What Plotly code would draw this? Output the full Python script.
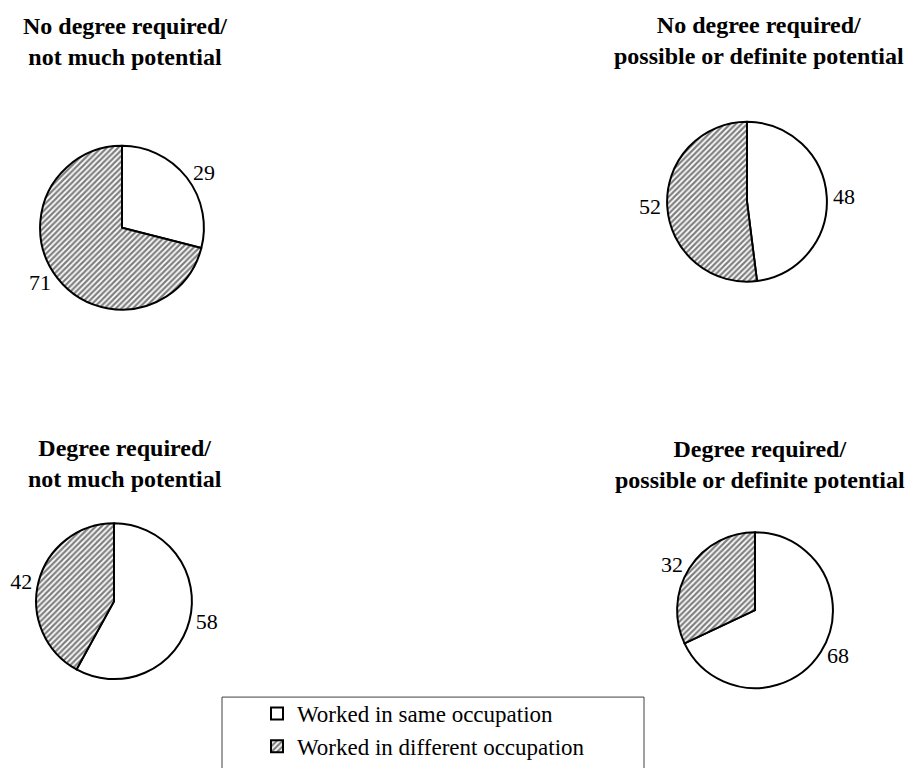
import plotly.graph_objects as go

categories = ["Worked in same occupation", "Worked in different occupation"]
panel_titles = [
    "No degree required/<br>not much potential",
    "No degree required/<br>possible or definite potential",
    "Degree required/<br>not much potential",
    "Degree required/<br>possible or definite potential",
]
values_no_deg_low = [29, 71]
values_no_deg_high = [48, 52]
values_deg_low = [58, 42]
values_deg_high = [68, 32]
panel_values = [values_no_deg_low, values_no_deg_high, values_deg_low, values_deg_high]

W, H = 907, 768
FONT = "Liberation Serif"

# pie centre (px) and radius (px) for the four panels
pie_geom = [(122, 228, 82), (747, 202, 80), (114, 602, 78), (755, 611, 78)]
title_geom = [(125, 11), (759, 10), (125, 434), (760, 435)]

fig = go.Figure()
for i, (vals, (cx, cy, r)) in enumerate(zip(panel_values, pie_geom)):
    fig.add_trace(go.Pie(
        labels=categories,
        values=vals,
        sort=False,
        direction="clockwise",
        rotation=0,
        textinfo="value",
        textposition="outside",
        textfont=dict(family=FONT, size=22, color="black"),
        marker=dict(
            colors=["white", "white"],
            line=dict(color="black", width=2),
            pattern=dict(shape=["", "/"], fgcolor="black", bgcolor="white",
                         size=4, solidity=0.55, fillmode="overlay"),
        ),
        domain=dict(x=[(cx - r) / W, (cx + r) / W],
                    y=[1 - (cy + r) / H, 1 - (cy - r) / H]),
        hoverinfo="label+value",
        showlegend=(i == 0),
    ))

for t, (tx, ty) in zip(panel_titles, title_geom):
    fig.add_annotation(
        text="<b>" + t + "</b>", x=tx / W, y=1 - ty / H, xref="paper", yref="paper",
        xanchor="center", yanchor="top", showarrow=False,
        font=dict(family=FONT, size=24, color="black"),
    )

# legend frame
fig.add_shape(type="rect", xref="paper", yref="paper",
              x0=222 / W, x1=644 / W, y0=1 - 775 / H, y1=1 - 698 / H,
              line=dict(color="#404040", width=1), fillcolor="rgba(0,0,0,0)")

fig.update_layout(
    width=W, height=H,
    margin=dict(l=0, r=0, t=0, b=0),
    paper_bgcolor="white", plot_bgcolor="white",
    font=dict(family=FONT, color="black"),
    showlegend=True,
    legend=dict(
        x=257 / W, y=1 - 693 / H, xanchor="left", yanchor="top",
        font=dict(family=FONT, size=23, color="black"),
        bgcolor="rgba(0,0,0,0)", borderwidth=0, traceorder="normal",
        itemclick=False, itemdoubleclick=False,
    ),
)

fig.write_html("out.html", config={"displayModeBar": False},
               post_script="document.body.style.margin='0';")
